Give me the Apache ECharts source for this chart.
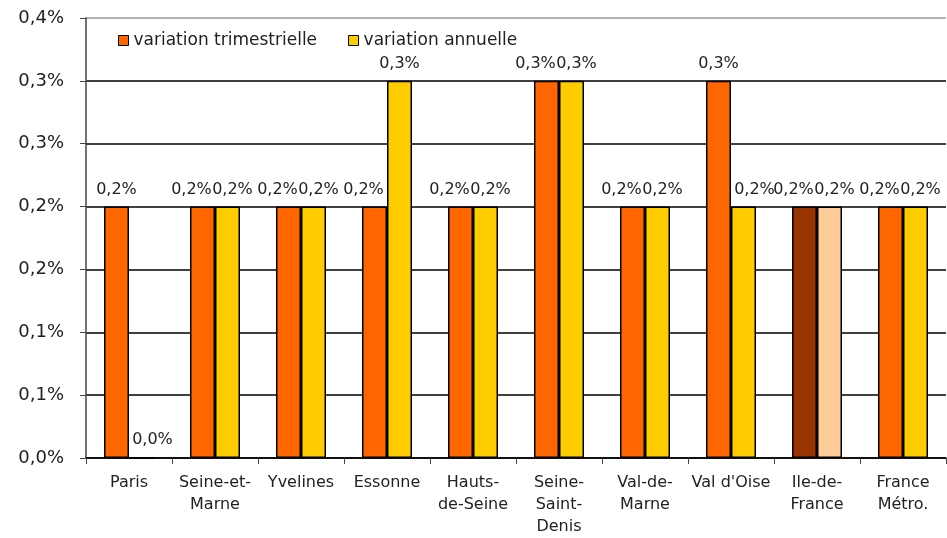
<!DOCTYPE html>
<html>
<head>
<meta charset="utf-8">
<script src="https://cdn.jsdelivr.net/npm/echarts@6/dist/echarts.min.js"></script>
<style>
  html, body { margin: 0; padding: 0; background: #fff; }
  #chart { width: 947px; height: 538px; }
</style>
</head>
<body>
<div id="chart"></div>
<script>
// départements (libellés sur plusieurs lignes comme dans l'original)
const categories = ['Paris', 'Seine-et-\nMarne', 'Yvelines', 'Essonne', 'Hauts-\nde-Seine',
  'Seine-\nSaint-\nDenis', 'Val-de-\nMarne', "Val d'Oise", 'Ile-de-\nFrance', 'France\nMétro.'];
const trimestrielle = [0.2, 0.2, 0.2, 0.2, 0.2, 0.3, 0.2, 0.3, 0.2, 0.2];
const annuelle = [0.0, 0.2, 0.2, 0.3, 0.2, 0.3, 0.2, 0.2, 0.2, 0.2];
const seriesNames = ['variation trimestrielle', 'variation annuelle'];

const FONT = 'DejaVu Sans';
const ORANGE = '#FF6600', JAUNE = '#FFCC00';
const IDF_TRIM = '#993300', IDF_ANN = '#FFCC99';

// format français, arrondi à 1 décimale
const fmt = v => (Math.round(v * 10 + 1e-9) / 10).toFixed(1).replace('.', ',') + '%';

// comme Excel : quand deux étiquettes voisines se gênent, on les écarte
const shiftTrim = i => (annuelle[i] >= trimestrielle[i] ? -11 : 0);
const shiftAnn = i => (trimestrielle[i] > annuelle[i] ? 11 : trimestrielle[i] === annuelle[i] ? 5 : 0);

const toData = (arr, idfColor, shift) => arr.map((v, i) => {
  const item = { value: v, label: { offset: [shift(i), 0] } };
  if (categories[i].startsWith('Ile-de')) item.itemStyle = { color: idfColor };
  return item;
});

const chart = echarts.init(document.getElementById('chart'));

const barBase = {
  type: 'bar',
  barWidth: 25,
  barGap: '0%',
  itemStyle: { borderColor: '#000', borderWidth: 1.5 },
  label: {
    show: true,
    position: 'top',
    distance: 9,
    color: '#222',
    fontFamily: FONT,
    fontSize: 16,
    formatter: p => fmt(p.value)
  }
};

chart.setOption({
  animation: false,
  backgroundColor: '#fff',
  grid: { left: 86, right: 1, top: 18, bottom: 78 },
  legend: {
    left: 113,
    top: 27,
    itemWidth: 10,
    itemHeight: 10,
    itemGap: 31,
    icon: 'rect',
    data: seriesNames,
    textStyle: { fontFamily: FONT, fontSize: 17, color: '#222' },
    itemStyle: { borderColor: '#000', borderWidth: 1 }
  },
  xAxis: {
    type: 'category',
    data: categories,
    axisLine: { lineStyle: { color: '#000', width: 1.5 } },
    axisTick: { show: true, length: 6, lineStyle: { color: '#444' } },
    axisLabel: {
      color: '#222',
      fontFamily: FONT,
      fontSize: 16,
      lineHeight: 22,
      margin: 14,
      interval: 0
    }
  },
  yAxis: {
    type: 'value',
    min: 0,
    max: 0.35,
    interval: 0.05,
    axisLine: { show: true, lineStyle: { color: '#444', width: 1.5 } },
    axisTick: { show: true, length: 6, lineStyle: { color: '#444' } },
    axisLabel: {
      color: '#222',
      fontFamily: FONT,
      fontSize: 18,
      margin: 22,
      formatter: fmt
    },
    splitLine: {
      lineStyle: {
        color: ['#000', '#000', '#000', '#000', '#000', '#000', '#000', '#999'],
        width: 1.5
      }
    }
  },
  series: [
    Object.assign({}, barBase, { name: seriesNames[0], color: ORANGE, data: toData(trimestrielle, IDF_TRIM, shiftTrim) }),
    Object.assign({}, barBase, { name: seriesNames[1], color: JAUNE, data: toData(annuelle, IDF_ANN, shiftAnn) })
  ]
});
</script>
</body>
</html>
